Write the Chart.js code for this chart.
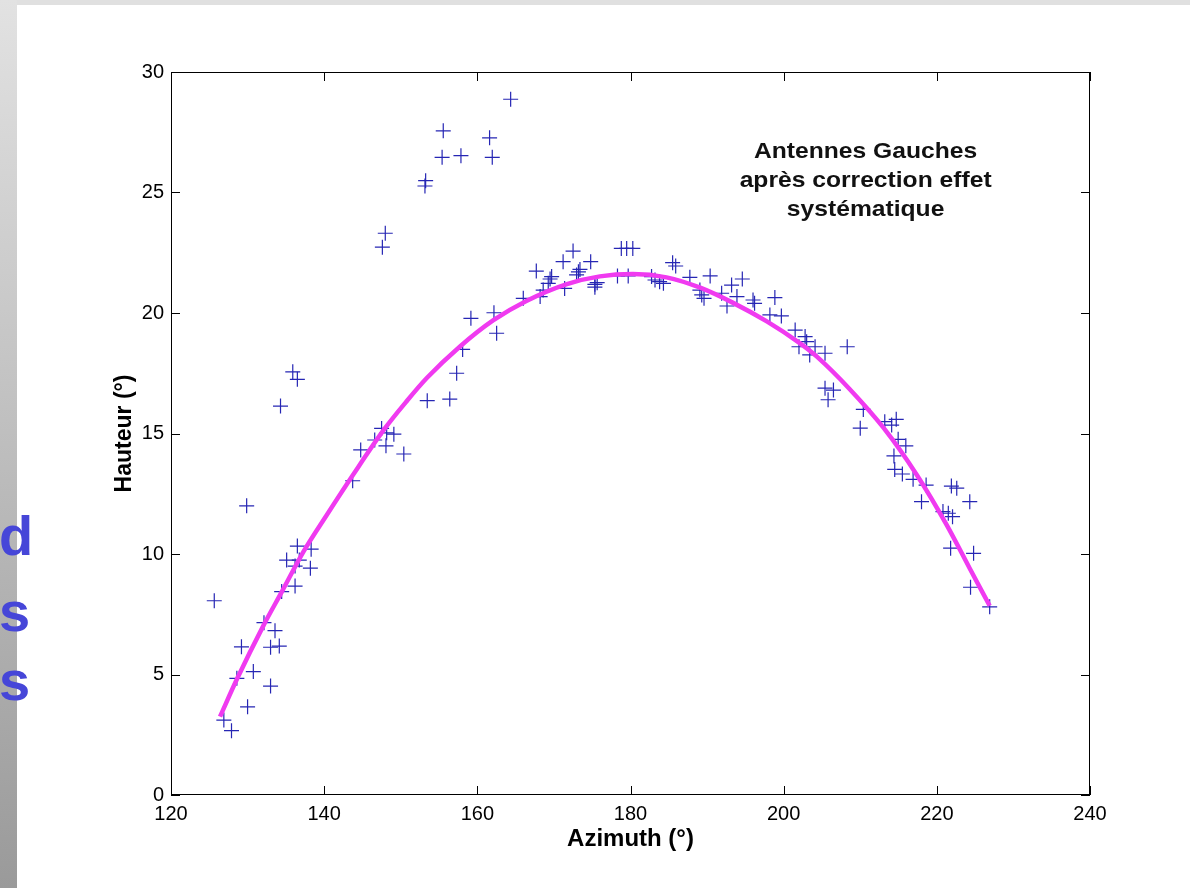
<!DOCTYPE html>
<html>
<head>
<meta charset="utf-8">
<script src="https://cdn.jsdelivr.net/npm/chart.js@4.4.0/dist/chart.umd.min.js"></script>
<style>
  html, body { margin:0; padding:0; width:1190px; height:888px; overflow:hidden; background:#ffffff; }
  #topband { position:absolute; left:0; top:0; width:1190px; height:5px; background:#e0e0e0; }
  #leftband { position:absolute; left:0; top:0; width:17px; height:888px; background:linear-gradient(#e2e2e2,#9a9a9a); }
  .side { position:absolute; left:-1px; font-family:"Liberation Sans", Arial, sans-serif; font-weight:bold; font-size:56px; color:#4646d8; line-height:1; }
  #wrap { position:absolute; left:0; top:0; width:1190px; height:888px; }
</style>
</head>
<body>
<div id="topband"></div>
<div id="leftband"></div>
<div class="side" style="top:508px;">d</div>
<div class="side" style="top:584px;">s</div>
<div class="side" style="top:653px;">s</div>
<div id="wrap"><canvas id="c" width="1190" height="888"></canvas></div>
<script>
// Measured points (Azimuth, Hauteur)
const azimuth = [164.35,155.55,161.6,155.4,157.86,161.95,153.25,153.16,147.98,147.6,
  167.7,166.0,162.17,159.16,162.52,158.08,157.3,156.4,153.46,135.9,
  136.5,134.3,147.5,148.16,149.1,146.6,148.07,144.77,150.4,143.72,
  129.88,136.5,138.3,135.1,136.75,136.2,138.2,136.2,134.45,125.65,
  132.14,133.58,129.2,133.0,134.14,130.75,128.6,133.0,130.0,126.9,
  127.9,168.2,168.6,169.5,169.7,169.26,171.2,172.5,171.4,173.2,
  173.4,172.96,174.8,175.35,175.65,175.35,178.8,179.5,180.3,178.3,
  179.7,182.75,183.2,183.8,184.3,185.5,185.9,187.75,190.4,189.06,
  189.3,189.6,193.2,194.6,191.9,192.6,193.9,196.0,196.2,198.85,
  198.2,199.7,201.5,202.8,203.0,202.0,204.1,205.4,203.4,208.3,
  205.4,206.5,205.8,210.4,210.0,213.2,214.1,214.7,214.95,215.95,
  214.4,214.5,215.5,216.9,218.6,218.0,221.9,222.6,224.3,220.8,
  221.5,222.05,221.8,224.8,224.4,226.9];
const hauteur = [28.87,27.56,27.27,26.46,26.53,26.46,25.49,25.27,23.31,22.73,
  21.74,20.61,20.01,19.78,19.16,18.49,17.5,16.43,16.36,17.56,
  17.25,16.14,15.21,15.03,14.97,14.73,14.49,14.32,14.15,13.04,
  12.0,10.33,10.2,9.75,9.75,9.5,9.41,8.67,8.44,8.06,
  7.15,6.82,6.15,6.13,6.18,5.12,4.84,4.52,3.66,3.11,
  2.67,20.68,20.95,21.41,21.51,21.23,22.13,22.57,21.02,21.71,
  21.81,21.58,22.13,21.19,21.26,21.07,22.68,22.68,22.68,21.54,
  21.54,21.51,21.37,21.3,21.23,22.09,21.95,21.48,21.54,20.95,
  20.75,20.61,21.16,21.41,20.82,20.29,20.68,20.54,20.4,20.64,
  19.92,19.88,19.29,19.02,18.81,18.6,18.6,18.33,18.26,18.6,
  16.88,16.8,16.4,16.0,15.22,15.49,15.35,15.59,14.76,14.49,
  14.07,13.51,13.32,13.1,12.86,12.17,12.82,12.73,12.17,11.76,
  11.69,11.55,10.24,10.03,8.62,7.81];

// Fitted curve
const fitAzimuth = [126.4,128.6,132.1,134.5,137.3,140.3,143.8,147.9,150.8,153.4,157.7,162.1,166.4,171.7,176.0,180.3,184.7,189.1,193.4,197.8,202.1,204.3,208.6,213.0,217.35,221.3,224.3,226.9];
const fitHauteur = [3.25,4.8,7.05,8.45,10.1,11.6,13.3,15.2,16.35,17.3,18.6,19.7,20.5,21.2,21.52,21.62,21.48,21.05,20.42,19.65,18.75,18.2,16.85,15.25,13.3,11.2,9.4,7.85];

const xTicks = [120,140,160,180,200,220,240];
const yTicks = [0,5,10,15,20,25,30];
const annotationLines = ["Antennes Gauches","après correction effet","systématique"];

const pts = azimuth.map((x,i)=>({x:x,y:hauteur[i]}));
const fit = fitAzimuth.map((x,i)=>({x:x,y:fitHauteur[i]}));

const boxPlugin = {
  id:'box',
  afterDraw(chart){
    const {ctx, chartArea:a, scales} = chart;
    ctx.save();
    ctx.strokeStyle = '#000';
    ctx.lineWidth = 1;
    ctx.strokeRect(a.left+0.5, a.top+0.5, a.right-a.left-1, a.bottom-a.top-1);
    const L = 9;
    ctx.beginPath();
    xTicks.forEach(v=>{
      const px = Math.round(scales.x.getPixelForValue(v))+0.5;
      ctx.moveTo(px,a.bottom); ctx.lineTo(px,a.bottom-L);
      ctx.moveTo(px,a.top); ctx.lineTo(px,a.top+L);
    });
    yTicks.forEach(v=>{
      const py = Math.round(scales.y.getPixelForValue(v))+0.5;
      ctx.moveTo(a.left,py); ctx.lineTo(a.left+L,py);
      ctx.moveTo(a.right,py); ctx.lineTo(a.right-L,py);
    });
    ctx.stroke();
    // annotation
    ctx.fillStyle = '#111';
    ctx.font = 'bold 22px "Liberation Sans", Arial, sans-serif';
    ctx.textAlign = 'center';
    ctx.textBaseline = 'alphabetic';
    const cx = scales.x.getPixelForValue(210.7);
    const y0 = scales.y.getPixelForValue(26.43);
    annotationLines.forEach((t,i)=>{
      ctx.save();
      ctx.translate(cx, y0 + i*29);
      ctx.scale(1.12, 1);
      ctx.fillText(t, 0, 0);
      ctx.restore();
    });
    ctx.restore();
  }
};

new Chart(document.getElementById('c'), {
  type:'scatter',
  data:{
    datasets:[
      {label:'fit', data:fit, showLine:true, pointRadius:0, borderColor:'#f03af0', borderWidth:4.5, cubicInterpolationMode:'monotone', fill:false, order:0},
      {label:'mesures', data:pts, pointStyle:'cross', pointRadius:7.5, pointBorderColor:'#2626b4', pointBorderWidth:1.2, borderColor:'#2626b4', showLine:false, order:1}
    ]
  },
  options:{
    responsive:false,
    animation:false,
    layout:{padding:{left:0, top:72, right:100, bottom:0}},
    plugins:{legend:{display:false}, tooltip:{enabled:false}},
    scales:{
      x:{
        type:'linear', min:120, max:240,
        afterBuildTicks(s){ s.ticks = xTicks.map(v=>({value:v})); },
        afterFit(s){ s.height = 93; },
        grid:{display:false, drawTicks:false},
        border:{display:false},
        ticks:{color:'#000', padding:7, font:{family:'"Liberation Sans", Arial, sans-serif', size:20}, maxRotation:0},
        title:{display:true, text:'Azimuth (°)', color:'#000', font:{family:'"Liberation Sans", Arial, sans-serif', size:24, weight:'bold'}, padding:{top:0,bottom:34}}
      },
      y:{
        type:'linear', min:0, max:30,
        afterBuildTicks(s){ s.ticks = yTicks.map(v=>({value:v})); },
        afterFit(s){ s.width = 171; },
        grid:{display:false, drawTicks:false},
        border:{display:false},
        ticks:{color:'#000', padding:7, font:{family:'"Liberation Sans", Arial, sans-serif', size:20}},
        title:{display:true, text:'Hauteur (°)', color:'#000', font:{family:'"Liberation Sans", Arial, sans-serif', size:23, weight:'bold'}, padding:{top:111,bottom:0}}
      }
    }
  },
  plugins:[boxPlugin]
});
</script>
</body>
</html>
